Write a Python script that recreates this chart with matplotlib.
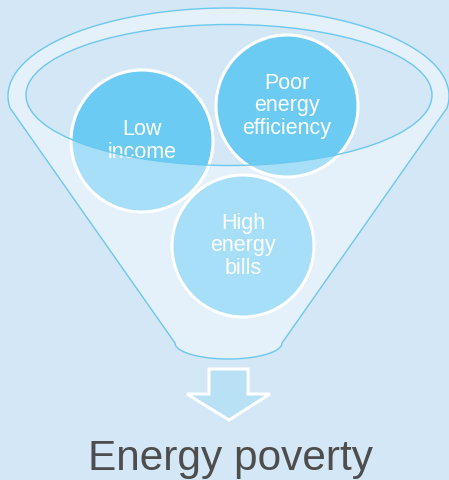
import numpy as np
import matplotlib.pyplot as plt
from matplotlib.patches import Circle, Ellipse, PathPatch, Polygon
from matplotlib.path import Path

plt.rcParams['font.family'] = ['Liberation Sans', 'DejaVu Sans']

# diagram content
circle_labels = ['Low\nincome', 'Poor\nenergy\nefficiency', 'High\nenergy\nbills']
result_label = 'Energy poverty'

# layout (pixel coordinates, y down)
circle_centers = [(142, 141), (287, 106), (243, 246)]
CIRCLE_R = 71
OUTER = dict(cx=228.5, cy=96, a=220.5, b=88)
INNER = dict(cx=229, cy=95, a=203, b=70.5)
BOTTOM = dict(cx=228.5, cy=343, a=53.5, b=16)
SIDE_Y = 108

BG = '#D3E7F7'
LINE = '#6CC8EE'
CIRCLE_FILL = '#6BCBF2'


def funnel_outline():
    """Outer funnel contour: top ellipse arc, straight sides, bottom arc."""
    t0 = np.arcsin((SIDE_Y - OUTER['cy']) / OUTER['b'])
    # top arc going from left side point, over the top, to right side point
    th = np.linspace(np.pi - t0, 2 * np.pi + t0, 200)
    top = np.c_[OUTER['cx'] + OUTER['a'] * np.cos(th),
                OUTER['cy'] + OUTER['b'] * np.sin(th)]
    # bottom arc (lower half of small ellipse), right to left
    tb = np.linspace(0, np.pi, 80)
    bot = np.c_[BOTTOM['cx'] + BOTTOM['a'] * np.cos(tb),
                BOTTOM['cy'] + BOTTOM['b'] * np.sin(tb)]
    return np.vstack([top, bot])


def ellipse_pts(e, n=200):
    th = np.linspace(0, 2 * np.pi, n)
    return np.c_[e['cx'] + e['a'] * np.cos(th), e['cy'] + e['b'] * np.sin(th)]


fig = plt.figure(figsize=(4.49, 4.80), dpi=100)
fig.patch.set_facecolor(BG)
ax = fig.add_axes([0, 0, 1, 1])
ax.set_xlim(0, 449)
ax.set_ylim(480, 0)
ax.axis('off')

# circles behind the funnel front
for (cx, cy), lab in zip(circle_centers, circle_labels):
    ax.add_patch(Circle((cx, cy), CIRCLE_R, facecolor=CIRCLE_FILL,
                        edgecolor='white', lw=2.2, zorder=2))
    ax.text(cx, cy, lab, color='white', fontsize=15.5, ha='center',
            va='center', linespacing=1.1, zorder=3)

# translucent funnel body with the mouth (inner ellipse) cut out
outer = funnel_outline()
inner = ellipse_pts(INNER)
# make winding opposite so inner becomes a hole
if np.cross(outer[1] - outer[0], outer[2] - outer[0]) * \
        np.cross(inner[1] - inner[0], inner[2] - inner[0]) > 0:
    inner = inner[::-1]
verts = np.vstack([outer, outer[:1], inner, inner[:1]])
codes = ([Path.MOVETO] + [Path.LINETO] * (len(outer) - 1) + [Path.CLOSEPOLY]
         + [Path.MOVETO] + [Path.LINETO] * (len(inner) - 1) + [Path.CLOSEPOLY])
ax.add_patch(PathPatch(Path(verts, codes), facecolor='white', alpha=0.4,
                       edgecolor='none', zorder=4))
ax.add_patch(Polygon(outer, closed=True, fill=False, edgecolor=LINE,
                     lw=1.0, zorder=5))
ax.add_patch(Ellipse((INNER['cx'], INNER['cy']), 2 * INNER['a'],
                     2 * INNER['b'], fill=False, edgecolor=LINE, lw=1.0,
                     zorder=5))

# down arrow
arrow = [(209, 369), (248, 369), (248, 394), (270, 394), (229, 420),
         (187, 394), (209, 394)]
ax.add_patch(Polygon(arrow, closed=True, facecolor='#B8E1F6',
                     edgecolor='white', lw=2.2, joinstyle='miter', zorder=5))

ax.text(230, 470, result_label, color='#4D4D4D', fontsize=30.5,
        ha='center', va='baseline', zorder=6)

fig.savefig('out.png', dpi=100, facecolor=BG)
